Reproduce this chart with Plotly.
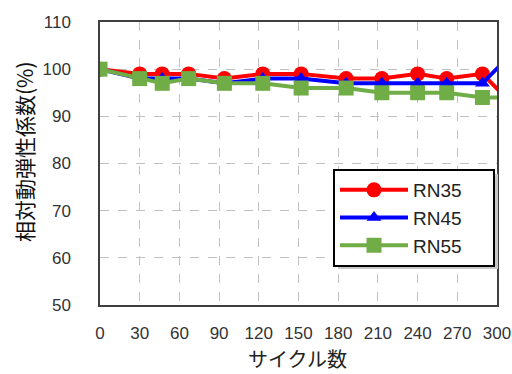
import plotly.graph_objects as go

cycles = [0, 30, 47, 67, 94, 123, 152, 186, 213, 240, 262, 289, 310]
rn35 = [100, 99, 99, 99, 98, 99, 99, 98, 98, 99, 98, 99, 93]
rn45 = [100, 98, 98, 98, 97, 98, 98, 97, 97, 97, 97, 97, 103]
rn55 = [100, 98, 97, 98, 97, 97, 96, 96, 95, 95, 95, 94, 94]
series_names = ["RN35", "RN45", "RN55"]
x_ticks = [0, 30, 60, 90, 120, 150, 180, 210, 240, 270, 300]
y_ticks = [50, 60, 70, 80, 90, 100, 110]
x_title = "サイクル数"
y_title = "相対動弾性係数(%)"

font_family = "Liberation Sans, Noto Sans CJK JP, sans-serif"
cjk_family = "Noto Sans CJK JP, sans-serif"

# plot area in pixels (for legend / title placement)
L, R, T, B = 100, 497, 22, 305
def px(x): return (x - L) / (R - L)
def py(y): return (B - y) / (B - T)

pad = "\u00a0" * 5
styles = [
    dict(color="#ff0000", symbol="circle", size=15),
    dict(color="#0000ff", symbol="triangle-up", size=13),
    dict(color="#70ad47", symbol="square", size=15),
]

fig = go.Figure()
for name, ys, st in zip(series_names, [rn35, rn45, rn55], styles):
    fig.add_trace(go.Scatter(x=cycles, y=ys, name=name + pad, mode="lines+markers",
                             line=dict(color=st["color"], width=4),
                             marker=dict(symbol=st["symbol"], size=st["size"], color=st["color"])))

# legend shadow
fig.add_shape(type="rect", xref="paper", yref="paper",
              x0=px(338), x1=px(498), y0=py(269), y1=py(174),
              fillcolor="#c8c8c8", line=dict(width=0), layer="above")

# axis titles
fig.add_annotation(text=x_title, xref="paper", yref="paper", x=px(297), y=py(358),
                   xanchor="center", yanchor="middle", showarrow=False,
                   font=dict(size=20, family=cjk_family, color="#222222"))
fig.add_annotation(text=y_title, xref="paper", yref="paper", x=px(24), y=py(152),
                   xanchor="center", yanchor="middle", showarrow=False, textangle=-90,
                   font=dict(size=21, family=cjk_family, color="#111111"))

fig.update_layout(
    width=512, height=374,
    margin=dict(l=L, r=512 - R, t=T, b=374 - B),
    paper_bgcolor="white", plot_bgcolor="white",
    font=dict(family=font_family, size=17, color="#333333"),
    showlegend=True,
    legend=dict(x=px(333), y=py(169), xanchor="left", yanchor="top",
                bgcolor="white", bordercolor="black", borderwidth=2,
                font=dict(size=19, color="#222222"), itemwidth=68),
    xaxis=dict(range=[0, 300], tickvals=x_ticks, ticktext=[str(v) for v in x_ticks],
               showgrid=True, gridcolor="#c0c0c0", griddash="dash", gridwidth=1,
               showline=True, linecolor="#404040", linewidth=1.5, mirror=True,
               ticks="", ticklabelstandoff=12, zeroline=False, automargin=False),
    yaxis=dict(range=[50, 110], tickvals=y_ticks,
               showgrid=True, gridcolor="#c0c0c0", griddash="dash", gridwidth=1,
               showline=True, linecolor="#404040", linewidth=1.5, mirror=True,
               ticks="", ticklabelstandoff=24, zeroline=False, automargin=False),
)

fig.write_html("out.html")
